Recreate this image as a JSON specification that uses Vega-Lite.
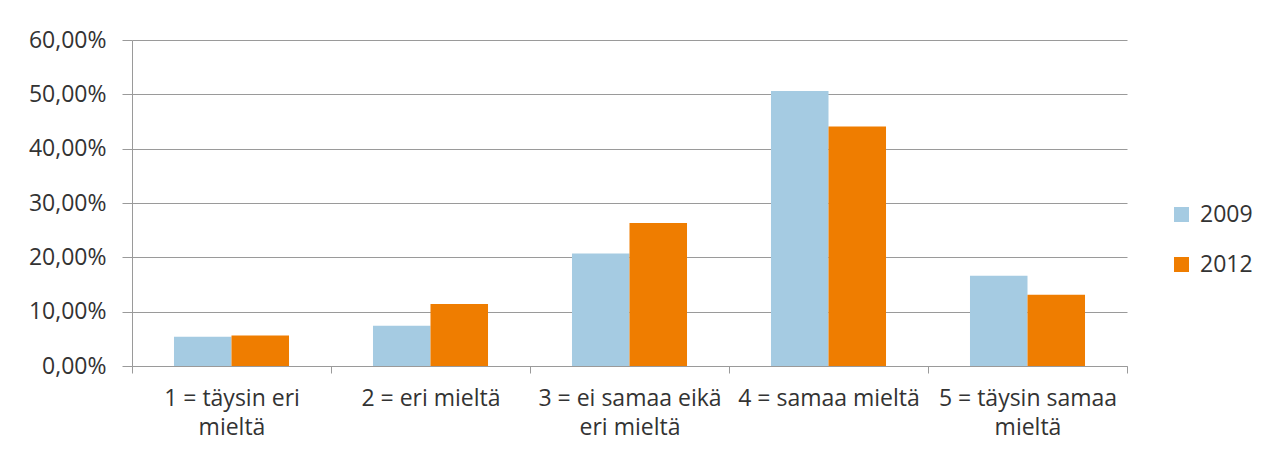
{
  "$schema": "https://vega.github.io/schema/vega-lite/v6.json",
  "width": 995,
  "height": 326,
  "autosize": {"type": "none"},
  "padding": {"left": 132, "top": 40, "right": 147, "bottom": 95},
  "background": "white",
  "data": {
    "values": [
      {"kategoria": "1 = täysin eri mieltä", "vuosi": "2009", "osuus": 0.054},
      {"kategoria": "1 = täysin eri mieltä", "vuosi": "2012", "osuus": 0.056},
      {"kategoria": "2 = eri mieltä", "vuosi": "2009", "osuus": 0.074},
      {"kategoria": "2 = eri mieltä", "vuosi": "2012", "osuus": 0.114},
      {"kategoria": "3 = ei samaa eikä eri mieltä", "vuosi": "2009", "osuus": 0.207},
      {"kategoria": "3 = ei samaa eikä eri mieltä", "vuosi": "2012", "osuus": 0.263},
      {"kategoria": "4 = samaa mieltä", "vuosi": "2009", "osuus": 0.506},
      {"kategoria": "4 = samaa mieltä", "vuosi": "2012", "osuus": 0.441},
      {"kategoria": "5 = täysin samaa mieltä", "vuosi": "2009", "osuus": 0.166},
      {"kategoria": "5 = täysin samaa mieltä", "vuosi": "2012", "osuus": 0.131}
    ]
  },
  "mark": {"type": "bar"},
  "encoding": {
    "x": {
      "field": "kategoria",
      "type": "nominal",
      "sort": null,
      "scale": {"paddingInner": 0, "paddingOuter": 0},
      "axis": {
        "title": null,
        "labelAngle": 0,
        "tickBand": "extent",
        "ticks": true,
        "tickSize": 7,
        "tickColor": "#9a9a9a",
        "domainColor": "#9a9a9a",
        "labelPadding": 14,
        "labelFontSize": 23,
        "labelLineHeight": 29,
        "labelBaseline": "top",
        "labelLimit": 0,
        "labelColor": "#333333",
        "labelExpr": "datum.value == '1 = täysin eri mieltä' ? ['1 = täysin eri', 'mieltä'] : datum.value == '3 = ei samaa eikä eri mieltä' ? ['3 = ei samaa eikä', 'eri mieltä'] : datum.value == '5 = täysin samaa mieltä' ? ['5 = täysin samaa', 'mieltä'] : datum.value"
      }
    },
    "xOffset": {
      "field": "vuosi",
      "type": "nominal",
      "scale": {"paddingInner": 0, "paddingOuter": 0.73}
    },
    "y": {
      "field": "osuus",
      "type": "quantitative",
      "scale": {"domain": [0, 0.6], "nice": false},
      "axis": {
        "title": null,
        "values": [0, 0.1, 0.2, 0.3, 0.4, 0.5, 0.6],
        "labelExpr": "replace(format(datum.value, '.2%'), '.', ',')",
        "tickSize": 10,
        "tickColor": "#9a9a9a",
        "domainColor": "#9a9a9a",
        "gridColor": "#9a9a9a",
        "labelPadding": 16,
        "labelFontSize": 23,
        "labelColor": "#333333"
      }
    },
    "color": {
      "field": "vuosi",
      "type": "nominal",
      "scale": {"domain": ["2009", "2012"], "range": ["#a5cbe2", "#ef7d00"]},
      "legend": {
        "title": null,
        "orient": "none",
        "legendX": 1038,
        "legendY": 163,
        "symbolType": "square",
        "symbolSize": 225,
        "symbolStrokeWidth": 0,
        "symbolOpacity": 1,
        "labelFontSize": 23,
        "labelColor": "#333333",
        "labelOffset": 7,
        "rowPadding": 26
      }
    }
  },
  "config": {
    "font": "Open Sans",
    "view": {"stroke": null},
    "axis": {"gridWidth": 1, "domainWidth": 1, "tickWidth": 1}
  }
}
